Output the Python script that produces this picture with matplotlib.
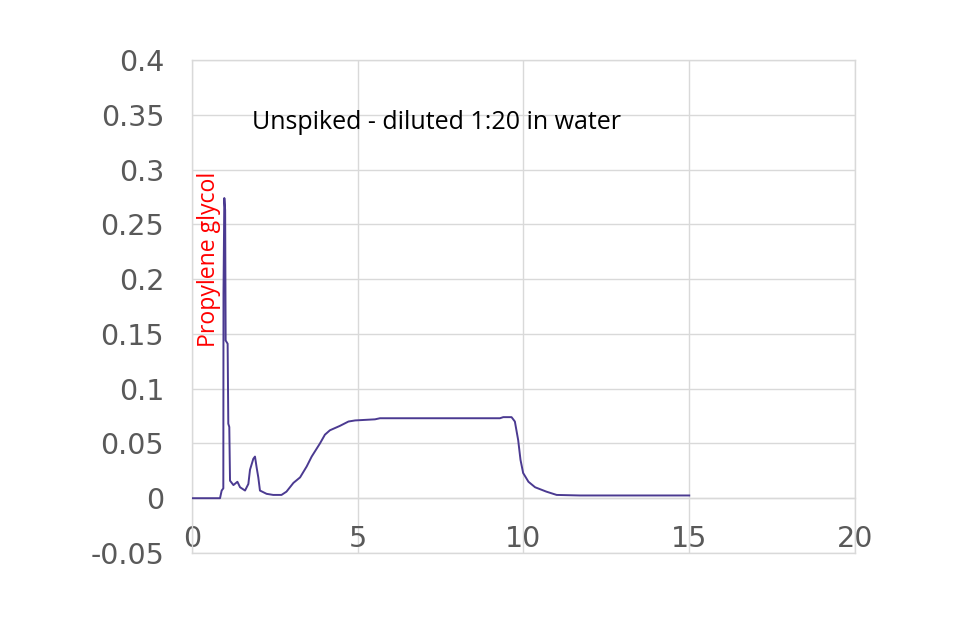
import matplotlib.pyplot as plt

# chromatogram trace (time, signal)
time = [0.0, 0.845, 0.895, 0.945, 0.95, 0.975, 1.0, 1.015, 1.075, 1.095, 1.125,
        1.147, 1.25, 1.37, 1.45, 1.6, 1.70, 1.75, 1.85, 1.90, 1.95, 2.0, 2.05,
        2.25, 2.45, 2.7, 2.85, 3.06, 3.26, 3.46, 3.61, 3.86, 4.01, 4.16, 4.46,
        4.72, 4.92, 5.52, 5.67, 9.29, 9.39, 9.64, 9.74, 9.84, 9.91, 9.99, 10.15,
        10.35, 10.69, 11.0, 11.7, 15.0]
signal = [0.0, 0.0, 0.007, 0.009, 0.187, 0.274, 0.263, 0.144, 0.141, 0.068, 0.065,
          0.016, 0.012, 0.015, 0.010, 0.007, 0.013, 0.026, 0.036, 0.038, 0.028, 0.019, 0.007,
          0.004, 0.003, 0.003, 0.006, 0.014, 0.019, 0.029, 0.038, 0.050, 0.058, 0.062, 0.066,
          0.070, 0.071, 0.072, 0.073, 0.073, 0.074, 0.074, 0.070, 0.053, 0.035, 0.023, 0.015,
          0.010, 0.006, 0.003, 0.0025, 0.0025]

x_ticks = [0, 5, 10, 15, 20]
y_ticks = [-0.05, 0, 0.05, 0.1, 0.15, 0.2, 0.25, 0.3, 0.35, 0.4]
y_labels = ['-0.05', '0', '0.05', '0.1', '0.15', '0.2', '0.25', '0.3', '0.35', '0.4']

title_text = 'Unspiked - diluted 1:20 in water'
peak_label = 'Propylene glycol'

grid_col = '#d9d9d9'
tick_col = '#595959'

fig = plt.figure(figsize=(9.6, 6.18), dpi=100)
ax = fig.add_axes([0.2, 0.1052, 0.6906, 0.7977])

ax.plot(time, signal, color='#4b3a91', lw=1.4, zorder=3)

ax.set_xlim(0, 20)
ax.set_ylim(-0.05, 0.4)
ax.set_xticks(x_ticks)
ax.set_yticks(y_ticks)
ax.set_yticklabels(y_labels)
ax.grid(True, color=grid_col, lw=1)
ax.set_axisbelow(True)

for s in ax.spines.values():
    s.set_color(grid_col)
    s.set_linewidth(1)
ax.spines['bottom'].set_position(('data', 0))
ax.axhline(-0.05, color=grid_col, lw=1, clip_on=False)

ax.tick_params(axis='both', length=0, labelsize=20.5, labelcolor=tick_col)
ax.tick_params(axis='x', pad=19)
ax.tick_params(axis='y', pad=20)

ax.text(1.8, 0.343, title_text, fontsize=18, family='Open Sans',
        color='black', va='center', ha='left')
ax.text(0.52, 0.218, peak_label, fontsize=16.6, family='Open Sans',
        color='#ff0000', rotation=90, va='center', ha='center')

fig.savefig('out.png', dpi=100)
